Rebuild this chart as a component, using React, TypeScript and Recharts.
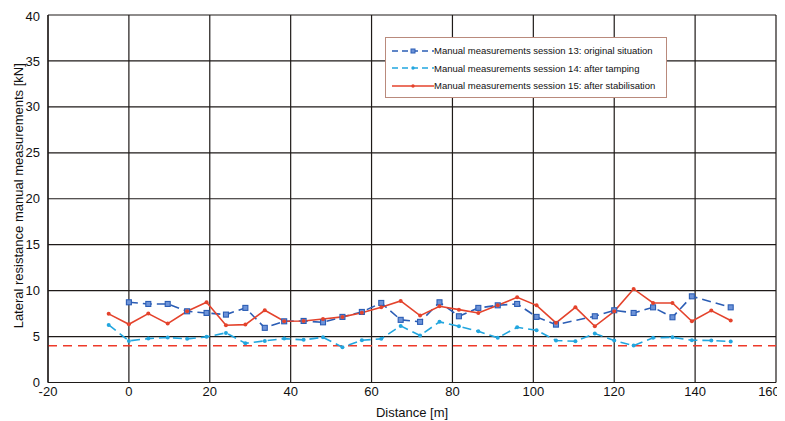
import React from 'react';
import { LineChart, Line, XAxis, YAxis, CartesianGrid, ReferenceLine } from 'recharts';

const distances = [-5, 0, 4.8, 9.6, 14.4, 19.2, 24, 28.8, 33.6, 38.4, 43.2, 48, 52.8, 57.6, 62.4, 67.2, 72, 76.8, 81.6, 86.4, 91.2, 96, 100.8, 105.6, 110.4, 115.2, 120, 124.8, 129.6, 134.4, 139.2, 144, 148.8];
const session13 = [null, 8.73, 8.55, 8.55, 7.75, 7.57, 7.39, 8.12, 5.95, 6.66, 6.7, 6.55, 7.14, 7.68, 8.66, 6.82, 6.6, 8.73, 7.21, 8.12, 8.4, 8.55, 7.14, 6.3, null, 7.21, 7.86, 7.57, 8.18, 7.1, 9.38, null, 8.18];
const session14 = [6.27, 4.53, 4.78, 4.89, 4.75, 4.97, 5.4, 4.27, 4.53, 4.78, 4.64, 4.92, 3.84, 4.6, 4.75, 6.16, 5.11, 6.6, 6.12, 5.58, 4.86, 6.01, 5.69, 4.57, 4.49, 5.33, 4.57, 4.02, 4.86, 4.92, 4.6, 4.57, 4.46];
const session15 = [7.47, 6.34, 7.5, 6.41, 7.75, 8.73, 6.23, 6.3, 7.86, 6.66, 6.7, 6.92, 7.14, 7.6, 8.18, 8.88, 7.28, 8.29, 7.93, 7.57, 8.4, 9.27, 8.4, 6.49, 8.18, 6.12, 7.75, 10.18, 8.66, 8.66, 6.66, 7.83, 6.74];
const xTicks = [-20, 0, 20, 40, 60, 80, 100, 120, 140, 160];
const yTicks = [0, 5, 10, 15, 20, 25, 30, 35, 40];
const threshold = 4;
const seriesNames = [
  'Manual measurements session 13: original situation',
  'Manual measurements session 14: after tamping',
  'Manual measurements session 15: after stabilisation',
];
const yTitle = 'Lateral resistance manual measurements [kN]';
const xTitle = 'Distance [m]';

const data = distances.map((x, i) => ({ x, s13: session13[i], s14: session14[i], s15: session15[i] }));

const BLUE = '#2b5db5';
const CYAN = '#22a6df';
const RED = '#e4432c';
const FONT = 'Liberation Sans, Arial, sans-serif';

const SquareDot = (props: any) => {
  const { cx, cy, value } = props;
  if (value == null || cx == null || cy == null) return null;
  return <rect x={cx - 2.5} y={cy - 2.5} width={5} height={5} fill="#6d93d8" stroke={BLUE} strokeWidth={1.1} />;
};

const RoundDot = (color: string) => (props: any) => {
  const { cx, cy, value } = props;
  if (value == null || cx == null || cy == null) return null;
  return <circle cx={cx} cy={cy} r={2} fill={color} stroke="none" />;
};

const XTick = (props: any) => {
  const { x, y, payload } = props;
  const last = payload.value === xTicks[xTicks.length - 1];
  return (
    <text x={last ? x - 4 : x} y={y} dy="0.71em" textAnchor="middle" fill="#111" fontSize={13} fontFamily={FONT}>
      {payload.value}
    </text>
  );
};

const YTitle = (props: any) => {
  const vb = props.viewBox || {};
  const cy = (vb.y ?? 7) + (vb.height ?? 368) / 2 - 3;
  return (
    <text x={10} y={cy} transform={`rotate(-90 10 ${cy})`} textAnchor="middle" dominantBaseline="central" fill="#111" fontSize={13} fontFamily={FONT}>
      {yTitle}
    </text>
  );
};

const LegendBox = () => {
  const items = [
    { color: BLUE, dash: '6 4', marker: 'square' },
    { color: CYAN, dash: '6 4', marker: 'dot' },
    { color: RED, dash: undefined, marker: 'dot' },
  ];
  return (
    <div style={{ position: 'absolute', left: 377, top: 29, border: '1px solid #b98a7c', background: '#fff', width: 282, height: 61, boxSizing: 'border-box', padding: '4px 0 0 6px', fontFamily: FONT, fontSize: 9.5, color: '#111' }}>
      {items.map((it, i) => (
        <div key={i} style={{ display: 'flex', alignItems: 'center', height: 17.5 }}>
          <svg width={42} height={10} style={{ flex: 'none' }}>
            <line x1={0} y1={5} x2={42} y2={5} stroke={it.color} strokeWidth={1.4} strokeDasharray={it.dash} />
            {it.marker === 'square' ? (
              <rect x={19} y={3} width={4} height={4} fill="#6d93d8" stroke={it.color} />
            ) : (
              <circle cx={21} cy={5} r={1.7} fill={it.color} />
            )}
          </svg>
          <span style={{ whiteSpace: 'nowrap' }}>{seriesNames[i]}</span>
        </div>
      ))}
    </div>
  );
};

export default function App() {
  return (
    <div style={{ width: 777, height: 413, position: 'relative' }}>
      <LineChart width={777} height={413} data={data} margin={{ top: 7, right: 9, bottom: 0, left: 0 }}>
        <CartesianGrid stroke="#1e1a18" strokeWidth={1.2} horizontalValues={yTicks} verticalValues={xTicks} />
        <XAxis
          dataKey="x"
          type="number"
          domain={[-20, 160]}
          ticks={xTicks}
          allowDataOverflow
          tickLine={false}
          tickSize={0}
          tickMargin={4}
          height={38.5}
          axisLine={{ stroke: '#1e1a18', strokeWidth: 1.2 }}
          tick={<XTick />}
          label={{ value: xTitle, position: 'insideBottom', offset: 4, fill: '#111', fontSize: 13, fontFamily: FONT }}
        />
        <YAxis
          type="number"
          domain={[0, 40]}
          ticks={yTicks}
          width={40}
          tickLine={false}
          tickSize={0}
          tickMargin={8}
          axisLine={{ stroke: '#1e1a18', strokeWidth: 1.2 }}
          tick={{ fill: '#111', fontSize: 13, fontFamily: FONT }}
          label={<YTitle />}
        />
        <ReferenceLine y={threshold} stroke="#ee3a2a" strokeWidth={1.3} strokeDasharray="9 6" />
        <Line dataKey="s13" name={seriesNames[0]} stroke={BLUE} strokeWidth={1.6} strokeDasharray="9 5" dot={<SquareDot />} connectNulls isAnimationActive={false} />
        <Line dataKey="s14" name={seriesNames[1]} stroke={CYAN} strokeWidth={1.6} strokeDasharray="9 5" dot={RoundDot(CYAN)} connectNulls isAnimationActive={false} />
        <Line dataKey="s15" name={seriesNames[2]} stroke={RED} strokeWidth={1.6} dot={RoundDot(RED)} connectNulls isAnimationActive={false} />
      </LineChart>
      <LegendBox />
    </div>
  );
}
